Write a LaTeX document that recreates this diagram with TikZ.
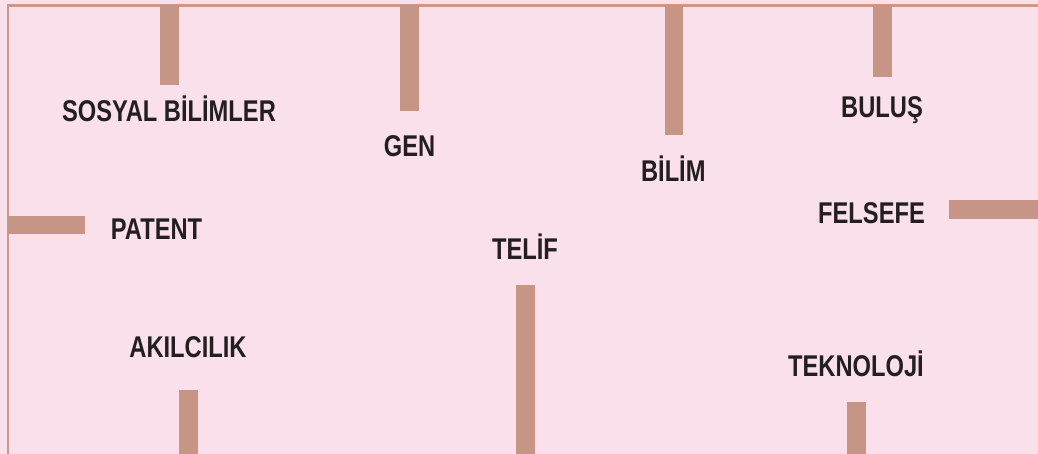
\documentclass[tikz,border=0pt]{standalone}
\usepackage{fontspec}
\setmainfont{Liberation Sans}[FakeStretch=0.79]
\definecolor{bgpink}{RGB}{250,224,234}
\definecolor{barbrown}{RGB}{199,149,133}
\definecolor{framebrown}{RGB}{205,152,140}
\definecolor{txt}{RGB}{35,31,32}
\begin{document}
\begin{tikzpicture}[x=1pt,y=-1pt,
  lbl/.style={anchor=base,inner sep=0pt,font=\fontsize{30}{34}\selectfont\bfseries,text=txt},
  bar/.style={fill=barbrown,draw=none},
  frame/.style={draw=framebrown,line width=2.6pt}]
\useasboundingbox[fill=bgpink] (0,0) rectangle (1038,454);
% frame
\coordinate (tl) at (8,5.3);
\coordinate (tr) at (1038,5.3);
\coordinate (bl) at (8,454);
\draw[frame] (tr) -- (tl) -- (bl);
% bars
\fill[bar] (160.3,5) rectangle (179,85);
\fill[bar] (400,5) rectangle (418.7,110.7);
\fill[bar] (664.7,5) rectangle (683.3,134.7);
\fill[bar] (873.3,5) rectangle (892.3,76.7);
\fill[bar] (8,216) rectangle (85,234.3);
\fill[bar] (949,200) rectangle (1038,218.7);
\fill[bar] (516,285.3) rectangle (534.7,454);
\fill[bar] (179.3,390) rectangle (198.3,454);
\fill[bar] (847.3,401.7) rectangle (866,454);
% labels
\node[lbl] (sosyal) at (169,121.7) {SOSYAL BİLİMLER};
\node[lbl] (gen) at (409.5,156.7) {GEN};
\node[lbl] (bilim) at (673.3,181.7) {BİLİM};
\node[lbl] (bulus) at (882,117.3) {BULUŞ};
\node[lbl] (patent) at (156.5,240) {PATENT};
\node[lbl] (felsefe) at (871.5,223.3) {FELSEFE};
\node[lbl] (telif) at (525,260) {TELİF};
\node[lbl] (akil) at (188,357.3) {AKILCILIK};
\node[lbl] (tekno) at (856,376) {TEKNOLOJİ};
\end{tikzpicture}
\end{document}
